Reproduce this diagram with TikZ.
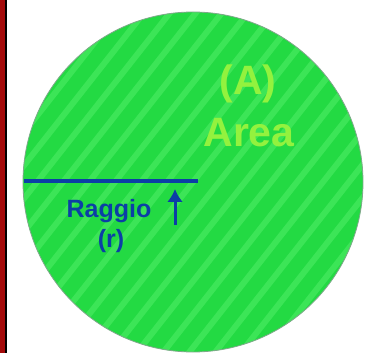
\documentclass[tikz,border=0pt]{standalone}
\usepackage{fontspec}
\setmainfont{Liberation Sans}
\usetikzlibrary{arrows.meta,calc}
\definecolor{disc}{HTML}{23DA43}
\definecolor{stripe}{HTML}{3CE557}
\definecolor{rim}{HTML}{7FA88A}
\definecolor{lime}{HTML}{93F23E}
\definecolor{navy}{HTML}{0B3FA6}
\definecolor{edge}{HTML}{A30A0A}
\tikzset{
  every node/.style={font=\bfseries},
  arealbl/.style={text=lime, font=\bfseries\fontsize{41}{44}\selectfont, inner sep=0pt},
  radlbl/.style={text=navy, font=\bfseries\fontsize{25}{28}\selectfont, inner sep=0pt},
  radline/.style={draw=navy, line width=3.4pt},
  uparr/.style={-{Latex[length=13pt, width=16pt]}, draw=navy, line width=3pt},
}
\begin{document}
\begin{tikzpicture}[x=1pt, y=-1pt]
\useasboundingbox (0,0) rectangle (365,353);
\fill[white] (0,0) rectangle (365,353);

% --- left border strip ---
\fill[edge] (0,0) rectangle (5,353);
\fill[black] (5,0) rectangle (7,353);

% --- striped disc ---
\coordinate (O) at (193,182);
\fill[disc] (O) circle[radius=170];
\begin{scope}
  \clip (O) circle[radius=170];
  \foreach \s in {-16,...,16}
    \draw[stripe, line width=6pt] ($(O)+(\s*26,0)+(-220,280)$) -- ($(O)+(\s*26,0)+(220,-280)$);
\end{scope}
\draw[rim, line width=0.8pt] (O) circle[radius=170];

% --- labels ---
\node[arealbl] (sym) at (248,84) {(A)};
\node[arealbl] (area) at (249,133) {Area};
\node[radlbl] (rag) at (109,211) {Raggio};
\node[radlbl] (rr) at (111,241) {(r)};

% --- radius ---
\coordinate (rl) at (24,181);
\coordinate (rc) at (198,181);
\draw[radline] (rl) -- (rc);
\coordinate (ab) at (175,225);
\coordinate (at) at (175,189);
\draw[uparr] (ab) -- (at);

\end{tikzpicture}
\end{document}
